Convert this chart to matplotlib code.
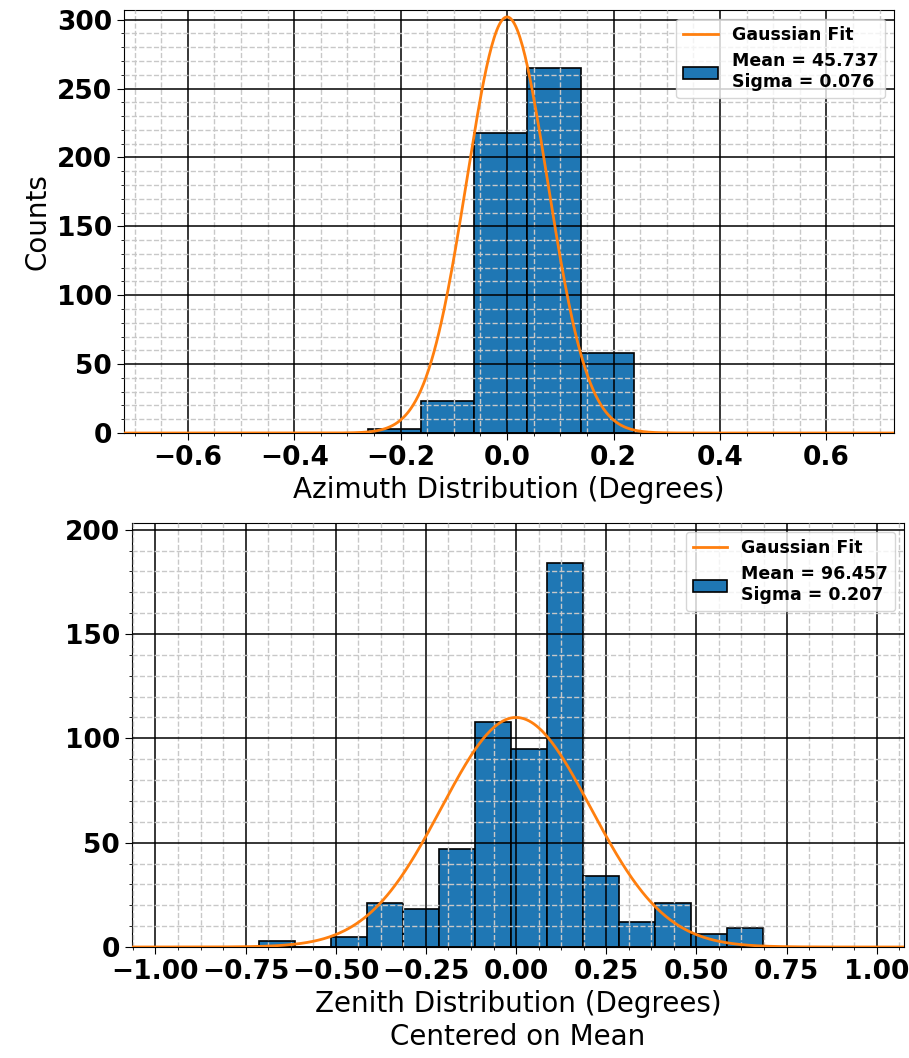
import numpy as np
import matplotlib.pyplot as plt
from matplotlib.ticker import MultipleLocator, AutoMinorLocator

# Azimuth histogram (offset from mean, degrees)
az_edges = [-0.262, -0.162, -0.062, 0.038, 0.138, 0.238]
az_counts = [3, 23, 218, 265, 58]
az_amp, az_mean, az_sigma = 302, 0.0, 0.076
az_label = "Mean = 45.737\nSigma = 0.076"

# Zenith histogram (offset from mean, degrees)
ze_edges = [-0.714, -0.614, -0.514, -0.414, -0.314, -0.214, -0.114, -0.014,
            0.086, 0.186, 0.286, 0.386, 0.486, 0.586, 0.686]
ze_counts = [3, 0, 5, 21, 18, 47, 108, 95, 184, 34, 12, 21, 6, 9]
ze_amp, ze_mean, ze_sigma = 110, 0.0, 0.207
ze_label = "Mean = 96.457\nSigma = 0.207"


def gauss(x, a, mu, s):
    return a * np.exp(-0.5 * ((x - mu) / s) ** 2)


def draw_panel(ax, edges, counts, amp, mu, sig, label, xlim, ylim, xmajor, ymajor):
    edges = np.array(edges)
    centers = 0.5 * (edges[:-1] + edges[1:])
    xs = np.linspace(xlim[0], xlim[1], 600)
    line, = ax.plot(xs, gauss(xs, amp, mu, sig), color="#ff7f0e", lw=2, zorder=3)
    _, _, patches = ax.hist(centers, bins=edges, weights=counts, color="#1f77b4",
                            edgecolor="black", linewidth=1.2, zorder=2)
    ax.set_xlim(*xlim)
    ax.set_ylim(*ylim)
    ax.xaxis.set_major_locator(MultipleLocator(xmajor))
    ax.yaxis.set_major_locator(MultipleLocator(ymajor))
    ax.xaxis.set_minor_locator(AutoMinorLocator(4))
    ax.yaxis.set_minor_locator(AutoMinorLocator(5))
    ax.set_axisbelow(False)
    ax.grid(which="major", color="black", linestyle="-", linewidth=1.1, zorder=4)
    ax.grid(which="minor", color="#c8c8c8", linestyle="--", linewidth=1.0, zorder=4)
    ax.tick_params(which="major", labelsize=19, length=5)
    for t in ax.get_xticklabels() + ax.get_yticklabels():
        t.set_fontweight("bold")
    ax.legend([line, patches[0]], ["Gaussian Fit", label], loc="upper right",
              prop={"weight": "bold", "size": 12.5})


fig = plt.figure(figsize=(9.09, 10.58), dpi=100)

ax1 = fig.add_axes([0.1364, 0.5907, 0.847, 0.3998])
draw_panel(ax1, az_edges, az_counts, az_amp, az_mean, az_sigma, az_label,
           (-0.72, 0.727), (0, 307), 0.2, 50)
ax1.set_xlabel("Azimuth Distribution (Degrees)", fontsize=20)
ax1.set_ylabel("Counts", fontsize=20)

ax2 = fig.add_axes([0.1452, 0.1049, 0.849, 0.4008])
draw_panel(ax2, ze_edges, ze_counts, ze_amp, ze_mean, ze_sigma, ze_label,
           (-1.065, 1.075), (0, 203.2), 0.25, 50)
ax2.set_xlabel("Zenith Distribution (Degrees)\nCentered on Mean", fontsize=20)

fig.savefig("out.png", dpi=100)
